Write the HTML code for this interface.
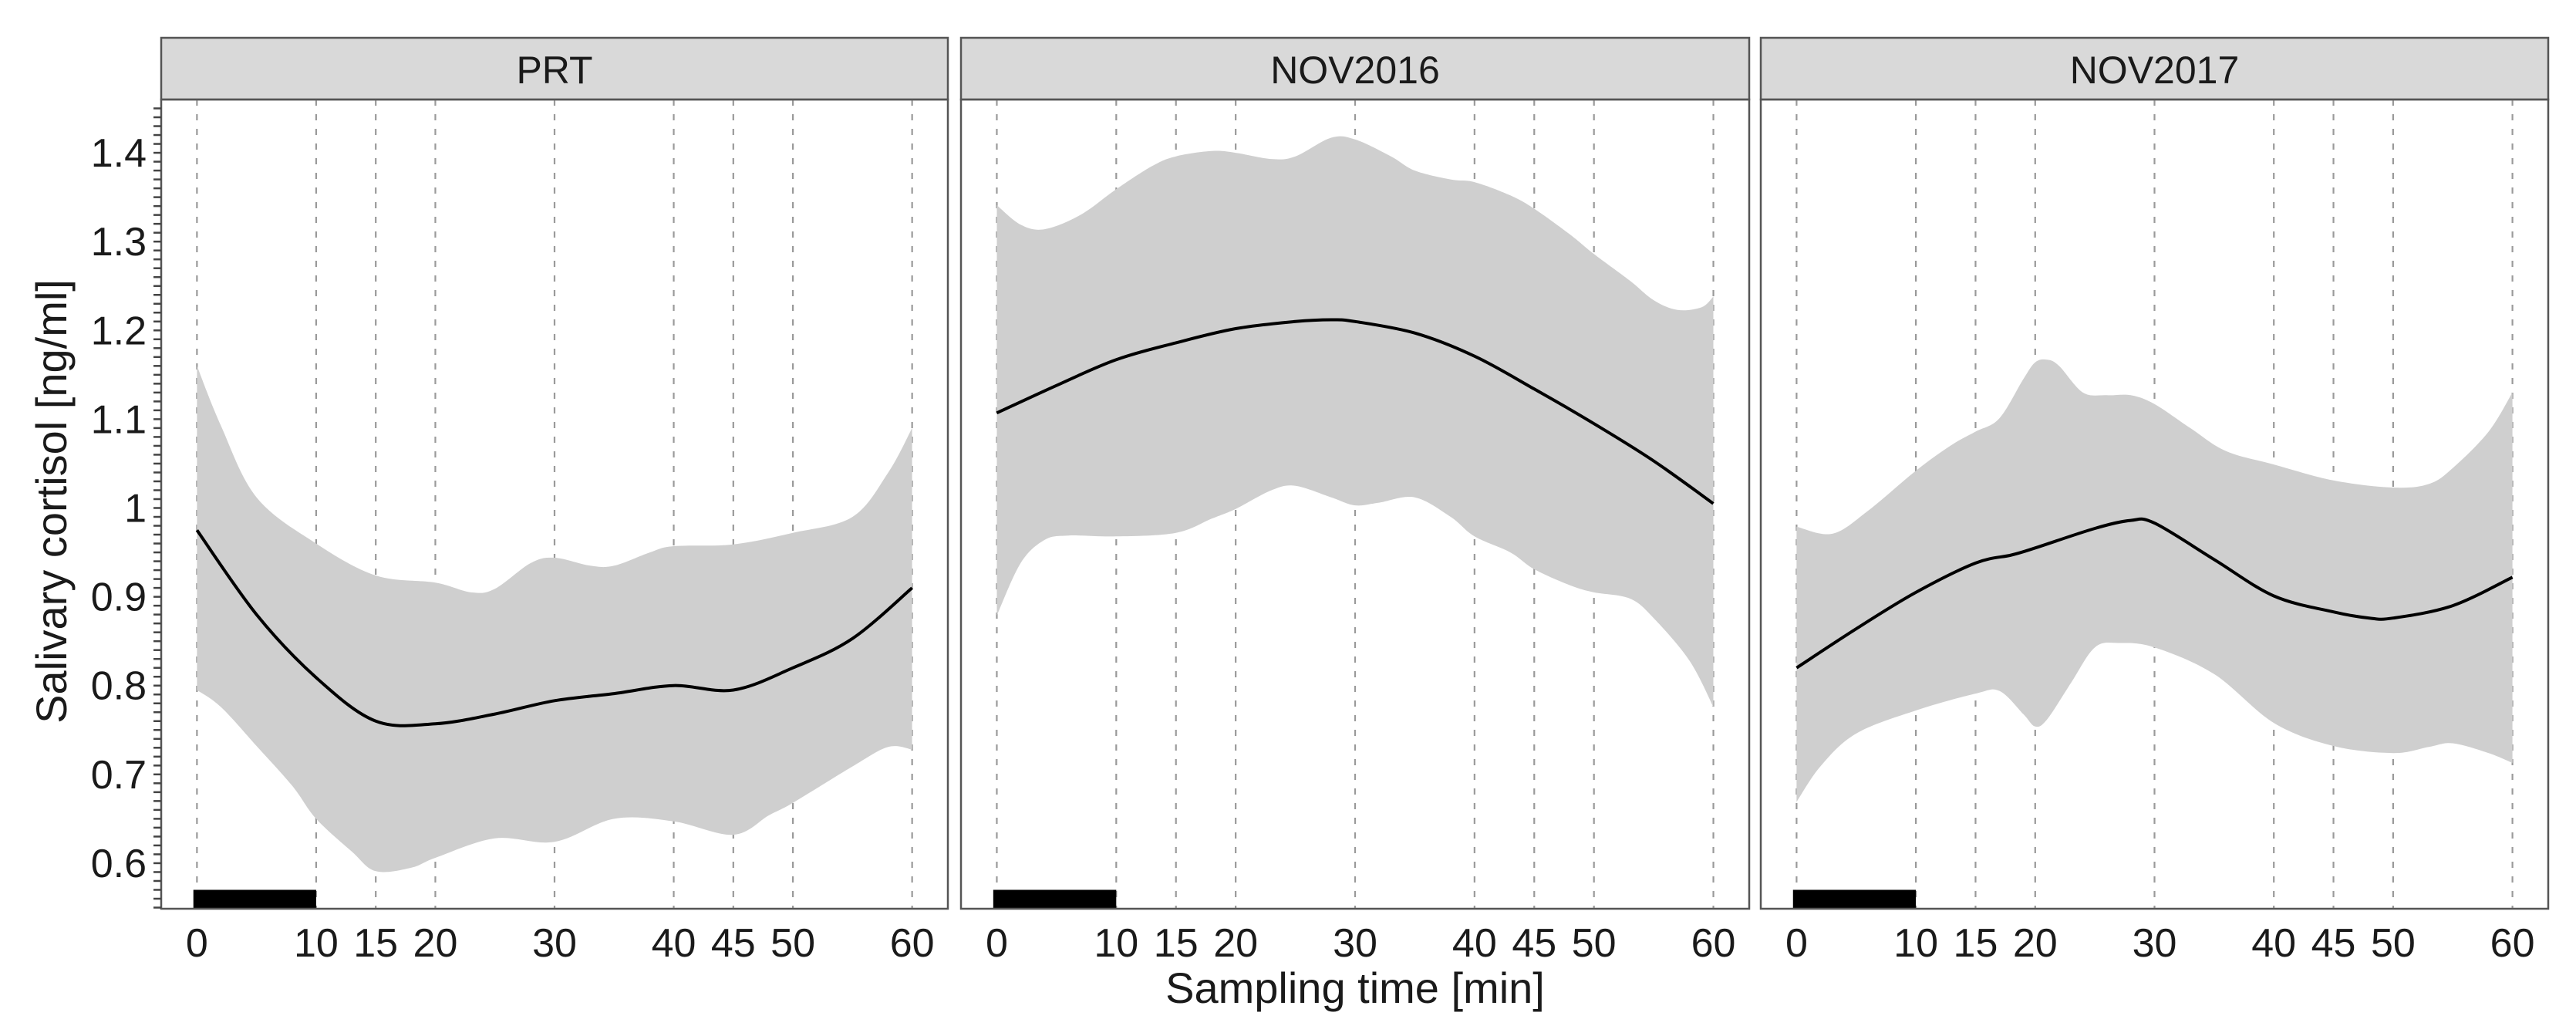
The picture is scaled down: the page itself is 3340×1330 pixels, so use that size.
<!DOCTYPE html>
<html><head><meta charset="utf-8"><style>
html,body{margin:0;padding:0;background:#fff;}
svg{display:block;font-family:"Liberation Sans",Arial,sans-serif;}
</style></head><body>
<svg id="chart" width="3340" height="1330" viewBox="0 0 3340 1330" xmlns="http://www.w3.org/2000/svg"></svg>
<script>
const panelNames = ["PRT", "NOV2016", "NOV2017"];
const xTicks = [0, 10, 15, 20, 30, 40, 45, 50, 60];
const yTicks = [0.6, 0.7, 0.8, 0.9, 1.0, 1.1, 1.2, 1.3, 1.4];
const yTickLabels = ["0.6", "0.7", "0.8", "0.9", "1", "1.1", "1.2", "1.3", "1.4"];
const prtLineX = [0, 5, 10, 15, 20, 25, 30, 35, 40, 45, 50, 55, 60];
const prtLineY = [0.975, 0.88, 0.809, 0.760, 0.757, 0.768, 0.783, 0.791, 0.800, 0.795, 0.820, 0.853, 0.910];
const prtUpX = [0, 2, 5, 10, 15, 20, 23, 25, 28, 30, 33, 35, 38, 40, 45, 50, 55, 58, 60];
const prtUpY = [1.16, 1.093, 1.012, 0.96, 0.924, 0.916, 0.905, 0.909, 0.938, 0.944, 0.935, 0.935, 0.950, 0.957, 0.959, 0.972, 0.99, 1.04, 1.09];
const prtLoX = [0, 2, 5, 8, 10, 13, 15, 18, 20, 25, 30, 35, 40, 45, 48, 50, 55, 58, 60];
const prtLoY = [0.795, 0.776, 0.732, 0.687, 0.65, 0.613, 0.591, 0.595, 0.606, 0.628, 0.624, 0.65, 0.647, 0.632, 0.654, 0.668, 0.709, 0.731, 0.728];
const n16LineX = [0, 5, 10, 15, 20, 25, 28, 30, 35, 40, 45, 50, 55, 60];
const n16LineY = [1.107, 1.138, 1.167, 1.186, 1.202, 1.210, 1.212, 1.210, 1.197, 1.171, 1.134, 1.095, 1.053, 1.005];
const n16UpX = [0, 2, 4, 7, 10, 13, 15, 18, 20, 23, 25, 28, 30, 33, 35, 38, 40, 43, 45, 48, 50, 53, 55, 57, 59, 60];
const n16UpY = [1.341, 1.319, 1.314, 1.330, 1.359, 1.385, 1.396, 1.402, 1.40, 1.393, 1.396, 1.417, 1.415, 1.396, 1.380, 1.37, 1.367, 1.352, 1.337, 1.308, 1.286, 1.256, 1.234, 1.223, 1.226, 1.238];
const n16LoX = [0, 2, 4, 6, 10, 15, 18, 20, 23, 25, 28, 30, 32, 35, 38, 40, 43, 45, 48, 50, 53, 55, 58, 60];
const n16LoY = [0.879, 0.938, 0.964, 0.969, 0.968, 0.972, 0.988, 0.999, 1.02, 1.025, 1.012, 1.003, 1.006, 1.012, 0.990, 0.968, 0.950, 0.931, 0.913, 0.905, 0.898, 0.876, 0.828, 0.776];
const n17LineX = [0, 5, 10, 15, 18, 20, 25, 28, 30, 35, 40, 45, 48, 50, 55, 60];
const n17LineY = [0.820, 0.864, 0.905, 0.938, 0.947, 0.955, 0.977, 0.986, 0.983, 0.942, 0.901, 0.883, 0.876, 0.876, 0.890, 0.922];
const n17UpX = [0, 3, 6, 10, 13, 15, 17, 19, 20, 21, 22, 24, 26, 28, 30, 33, 36, 40, 45, 50, 53, 55, 58, 60];
const n17UpY = [0.979, 0.971, 0.997, 1.042, 1.071, 1.086, 1.101, 1.145, 1.164, 1.167, 1.160, 1.130, 1.127, 1.127, 1.117, 1.090, 1.064, 1.049, 1.031, 1.023, 1.027, 1.045, 1.086, 1.130];
const n17LoX = [0, 2, 5, 10, 15, 17, 19, 20, 21, 23, 25, 27, 30, 35, 40, 45, 50, 53, 55, 58, 60];
const n17LoY = [0.669, 0.709, 0.746, 0.772, 0.791, 0.794, 0.768, 0.754, 0.762, 0.803, 0.843, 0.848, 0.843, 0.813, 0.758, 0.732, 0.724, 0.731, 0.735, 0.724, 0.713];
const barRange = [-0.3, 10];
const barValues = [0.5487, 0.570];

const NS = "http://www.w3.org/2000/svg";
const svg = document.getElementById("chart");
function mk(tag, attrs, parent) {
  const e = document.createElementNS(NS, tag);
  for (const k in attrs) e.setAttribute(k, attrs[k]);
  (parent || svg).appendChild(e);
  return e;
}
const panels = [
  {left: 209, right: 1229, lx: prtLineX, ly: prtLineY, ux: prtUpX, uy: prtUpY, bx: prtLoX, by: prtLoY},
  {left: 1246, right: 2268, lx: n16LineX, ly: n16LineY, ux: n16UpX, uy: n16UpY, bx: n16LoX, by: n16LoY},
  {left: 2283, right: 3304, lx: n17LineX, ly: n17LineY, ux: n17UpX, uy: n17UpY, bx: n17LoX, by: n17LoY}
];
const TOP = 129, BOT = 1178, STRIP_TOP = 49;
const Y0 = 0.5487, Y1 = 1.46;
function yScale(v) { return BOT - (v - Y0) / (Y1 - Y0) * (BOT - TOP); }
function xScaleFor(p) { return v => p.left + (v + 3) / 66 * (p.right - p.left); }

function smoothPts(xs, ys, xs_, ys_) {
  return xs.map((x, i) => [xs_(x), ys_(ys[i])]);
}
function crPath(pts, start) {
  let d = (start ? "M" : "L") + pts[0][0].toFixed(1) + "," + pts[0][1].toFixed(1);
  for (let i = 0; i < pts.length - 1; i++) {
    const p0 = pts[Math.max(0, i - 1)], p1 = pts[i], p2 = pts[i + 1], p3 = pts[Math.min(pts.length - 1, i + 2)];
    const c1 = [p1[0] + (p2[0] - p0[0]) / 6, p1[1] + (p2[1] - p0[1]) / 6];
    const c2 = [p2[0] - (p3[0] - p1[0]) / 6, p2[1] - (p3[1] - p1[1]) / 6];
    d += " C" + c1[0].toFixed(1) + "," + c1[1].toFixed(1) + " " + c2[0].toFixed(1) + "," + c2[1].toFixed(1) + " " + p2[0].toFixed(1) + "," + p2[1].toFixed(1);
  }
  return d;
}

panels.forEach((p, pi) => {
  const xs = xScaleFor(p);
  const g = mk("g", {});
  
  
  const strip = mk("rect", {x: p.left, y: STRIP_TOP, width: p.right - p.left, height: TOP - STRIP_TOP, fill: "#d9d9d9", stroke: "#555", "stroke-width": 2.5}, g);
  
  
  const st = mk("text", {x: (p.left + p.right) / 2, y: 108, "text-anchor": "middle", "font-size": 50, fill: "#1a1a1a"}, g);
  st.textContent = panelNames[pi];
  
  
  xTicks.forEach(t => {
    const l = mk("line", {x1: xs(t), x2: xs(t), y1: TOP, y2: BOT, stroke: "#9a9a9a", "stroke-width": 2.2, "stroke-dasharray": "8 11"}, g);
    
    
  });
  const up = smoothPts(p.ux, p.uy, xs, yScale);
  const lo = smoothPts(p.bx, p.by, xs, yScale).reverse();
  const rib = mk("path", {d: crPath(up, true) + " " + crPath(lo, false) + " Z", fill: "#cfcfcf", stroke: "none"}, g);
  
  
  const ln = mk("path", {d: crPath(smoothPts(p.lx, p.ly, xs, yScale), true), fill: "none", stroke: "#000", "stroke-width": 4}, g);
  
  
  const bar = mk("rect", {x: xs(barRange[0]), y: yScale(barValues[1]), width: xs(barRange[1]) - xs(barRange[0]), height: yScale(barValues[0]) - yScale(barValues[1]), fill: "#000"}, g);
  
  
  const bd = mk("rect", {x: p.left, y: TOP, width: p.right - p.left, height: BOT - TOP, fill: "none", stroke: "#555", "stroke-width": 2.5}, g);
  
  
  xTicks.forEach(t => {
    const tx = mk("text", {x: xs(t), y: 1240, "text-anchor": "middle", "font-size": 52, fill: "#1a1a1a"}, g);
    tx.textContent = String(t);
    
    
  });
});

for (let k = 55; k <= 145; k++) {
  const v = k / 100;
  const t = mk("line", {x1: 199, x2: 209, y1: yScale(v), y2: yScale(v), stroke: "#444", "stroke-width": 2.5});
  
  
}
yTicks.forEach((v, i) => {
  const t = mk("text", {x: 190, y: yScale(v) + 18, "text-anchor": "end", "font-size": 52, fill: "#1a1a1a"});
  t.textContent = yTickLabels[i];
  
  
});
const xt = mk("text", {x: 1757, y: 1300, "text-anchor": "middle", "font-size": 56, fill: "#1a1a1a"});
xt.textContent = "Sampling time [min]";


const yt = mk("text", {x: 0, y: 0, "text-anchor": "middle", "font-size": 56, fill: "#1a1a1a", transform: "translate(86,650) rotate(-90)"});
yt.textContent = "Salivary cortisol [ng/ml]";


</script>
</body></html>
